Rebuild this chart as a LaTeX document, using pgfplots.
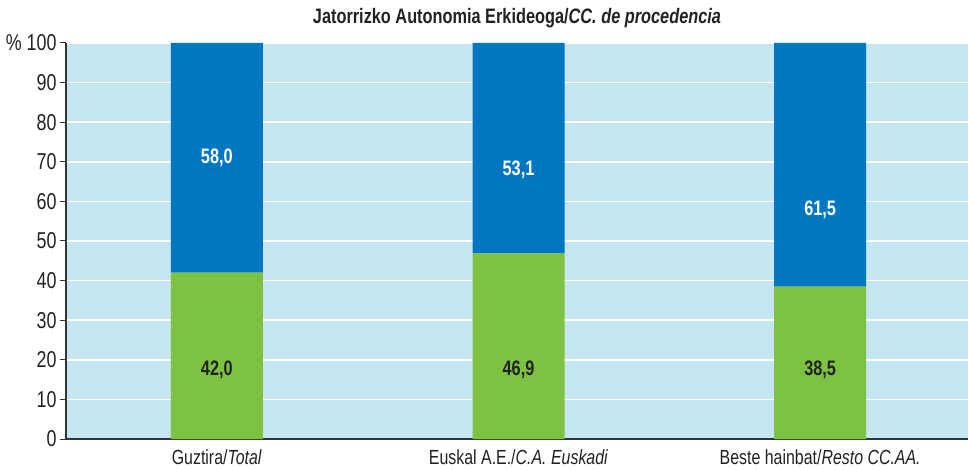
\documentclass[border=0pt]{standalone}
\usepackage{fontspec}
\setmainfont{Liberation Sans}[FakeStretch=0.78]
\usepackage{pgfplots}
\pgfplotsset{compat=1.18}
\definecolor{bgblue}{HTML}{C5E5F0}
\definecolor{barblue}{HTML}{0077C0}
\definecolor{bargreen}{HTML}{7DC242}
\definecolor{txt}{HTML}{222222}
\definecolor{axisgray}{HTML}{333333}
\begin{document}
\begin{tikzpicture}
\path[use as bounding box] (-66bp,-31bp) rectangle (902bp,439bp);
\begin{axis}[
  at={(0,0)}, anchor=origin,
  scale only axis,
  width=902bp, height=396bp,
  xmin=0, xmax=2.99,
  ymin=0, ymax=100,
  ybar stacked,
  bar width=92bp,
  axis x line*=bottom,
  axis y line*=left,
  axis line style={axisgray, line width=1.2bp},
  axis background/.style={fill=bgblue},
  ymajorgrids,
  grid style={white, line width=1.6bp},
  ytick={0,10,...,100},
  yticklabels={0,10,20,30,40,50,60,70,80,90,\% 100},
  xtick={0.5,1.5,2.5},
  xticklabels={Guztira/\textit{Total},Euskal A.E./\textit{C.A. Euskadi},Beste hainbat/\textit{Resto CC.AA.}},
  major x tick style={draw=none},
  extra x ticks={1,2},
  extra x tick labels={},
  extra x tick style={tick style={axisgray, line width=1bp}, major tick length=6bp, tick align=outside, grid=none},
  ytick style={axisgray, line width=1bp},
  major tick length=6bp,
  tick align=outside,
  tick label style={font=\fontsize{23}{26}\selectfont, text=txt},
  /pgf/number format/assume math mode=true,
  xticklabel style={font=\fontsize{20.5}{24}\selectfont, yshift=-1bp},
  clip=false,
  after end axis/.code={
    \node[font=\fontsize{21}{24}\selectfont\bfseries, text=white] at (axis cs:0.5,71) {58,0};
    \node[font=\fontsize{21}{24}\selectfont\bfseries, text=white] at (axis cs:1.5,68) {53,1};
    \node[font=\fontsize{21}{24}\selectfont\bfseries, text=white] at (axis cs:2.5,57.8) {61,5};
    \node[font=\fontsize{21}{24}\selectfont\bfseries, text=txt] at (axis cs:0.5,17.4) {42,0};
    \node[font=\fontsize{21}{24}\selectfont\bfseries, text=txt] at (axis cs:1.5,17.4) {46,9};
    \node[font=\fontsize{21}{24}\selectfont\bfseries, text=txt] at (axis cs:2.5,17.4) {38,5};
  },
]
\addplot[fill=bargreen, draw=none] coordinates {(0.5,42.0) (1.5,46.9) (2.5,38.5)};
\addplot[fill=barblue, draw=none] coordinates {(0.5,58.0) (1.5,53.1) (2.5,61.5)};
\node[font=\fontsize{21}{24}\selectfont\bfseries, text=txt] at ([yshift=25bp]rel axis cs:0.5,1) {Jatorrizko Autonomia Erkideoga/\textit{CC. de procedencia}};
\end{axis}
\end{tikzpicture}
\end{document}
